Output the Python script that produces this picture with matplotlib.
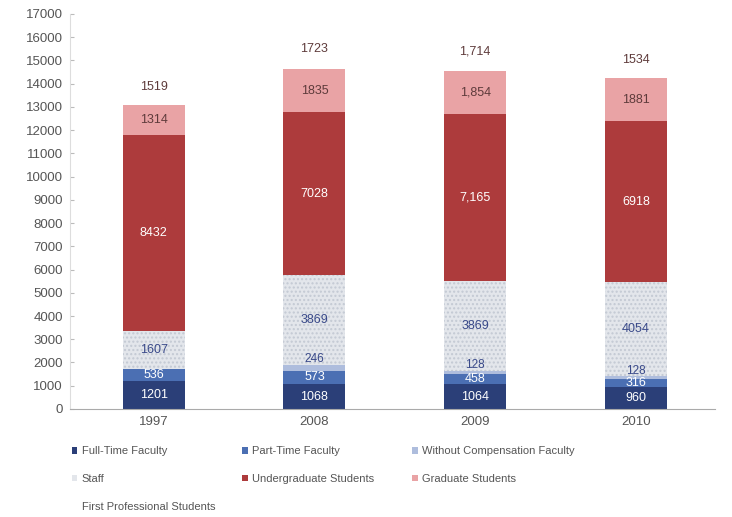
import matplotlib
matplotlib.use("Agg")
import matplotlib.pyplot as plt
from matplotlib.patches import Patch
import numpy as np

plt.rcParams['font.family'] = ['Liberation Sans', 'DejaVu Sans']

years = ["1997", "2008", "2009", "2010"]

full_time = [1201, 1068, 1064, 960]
part_time = [536, 573, 458, 316]
without_comp = [0, 246, 128, 128]
staff = [1607, 3869, 3869, 4054]
undergrad = [8432, 7028, 7165, 6918]
graduate = [1314, 1835, 1854, 1881]
first_prof = [1519, 1723, 1714, 1534]

# label text as printed on the chart (some years use thousands separators)
undergrad_txt = ["8432", "7028", "7,165", "6918"]
graduate_txt = ["1314", "1835", "1,854", "1881"]
first_prof_txt = ["1519", "1723", "1,714", "1534"]

series = [
    ("Full-Time Faculty", full_time, "#2b3f78", None, "white"),
    ("Part-Time Faculty", part_time, "#4b6fb3", None, "white"),
    ("Without Compensation Faculty", without_comp, "#aebddd", None, "#3a4a8a"),
    ("Staff", staff, "#e3e6eb", "....", "#3a4a8a"),
    ("Undergraduate Students", undergrad, "#ad3b3c", None, "white"),
    ("Graduate Students", graduate, "#e9a3a5", None, "#5e3b3b"),
    ("First Professional Students", first_prof, "white", None, "#5e3b3b"),
]

fig = plt.figure(figsize=(7.32, 5.17), dpi=100)
ax = fig.add_axes([0.0956, 0.209, 0.881, 0.764])

x = np.arange(len(years))
width = 0.385
bottom = np.zeros(len(years))
handles = {}
for name, vals, color, hatch, tcolor in series:
    vals = np.array(vals, dtype=float)
    ax.bar(x, vals, width, bottom=bottom, color=color,
           hatch=hatch, edgecolor="#c3c9d3" if hatch else color,
           linewidth=0)
    handles[name] = Patch(facecolor=color, edgecolor="none")
    for i, v in enumerate(vals):
        if v <= 0:
            continue
        if name == "Undergraduate Students":
            txt = undergrad_txt[i]
        elif name == "Graduate Students":
            txt = graduate_txt[i]
        elif name == "First Professional Students":
            txt = first_prof_txt[i]
        else:
            txt = str(int(v))
        y = bottom[i] + v / 2
        fs = 9
        if name == "Without Compensation Faculty":
            # small segment: label sits just above it
            y = bottom[i] + v + 250
            fs = 8.5
        ax.text(x[i], y, txt, ha="center", va="center", fontsize=fs,
                color=tcolor)
    bottom += vals

ax.set_xlim(-0.52, 3.49)
ax.set_ylim(0, 17000)
ax.set_yticks(np.arange(0, 17001, 1000))
ax.set_xticks(x)
ax.set_xticklabels(years)
ax.tick_params(axis="y", labelsize=9.5, labelcolor="#555555", color="#bbbbbb",
               length=3, direction="in", pad=5)
ax.tick_params(axis="x", labelsize=9.5, labelcolor="#555555", length=0, pad=5)
for s in ["top", "right"]:
    ax.spines[s].set_visible(False)
ax.spines["left"].set_color("#dddddd")
ax.spines["bottom"].set_color("#aaaaaa")

# legend laid out in three columns, row by row
cols = [
    (["Full-Time Faculty", "Staff", "First Professional Students"], 0.092),
    (["Part-Time Faculty", "Undergraduate Students"], 0.325),
    (["Without Compensation Faculty", "Graduate Students"], 0.557),
]
for names, xpos in cols:
    leg = fig.legend([handles[n] for n in names], names, loc="upper left",
                     bbox_to_anchor=(xpos, 0.145), frameon=False,
                     fontsize=8, handlelength=0.5, handleheight=0.5,
                     handletextpad=0.4, labelspacing=1.6, borderaxespad=0)
    for t in leg.get_texts():
        t.set_color("#555555")

fig.savefig("out.png", dpi=100)
